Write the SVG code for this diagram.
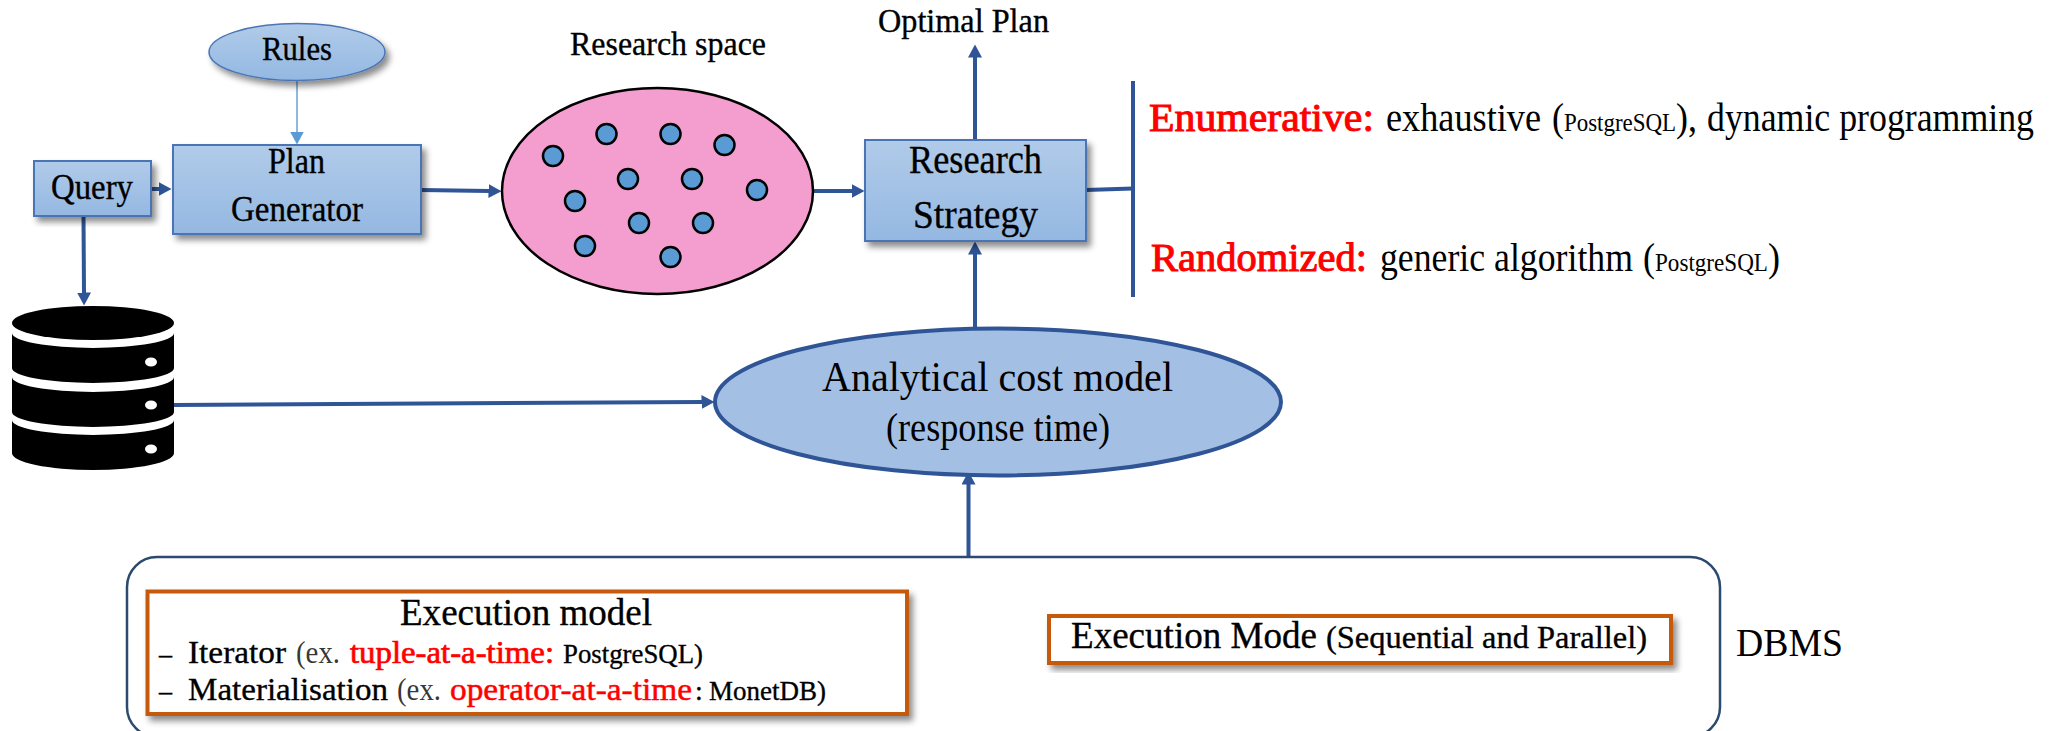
<svg xmlns="http://www.w3.org/2000/svg" width="2060" height="731" viewBox="0 0 2060 731">
<style>
text{font-family:"Liberation Serif","Times New Roman",serif;fill:#000;stroke:#000;stroke-width:.35}
text.r{fill:#f00;stroke:#f00}
text.t{stroke-width:0}
.box{fill:url(#blue);stroke:#4A75B5;stroke-width:2;filter:url(#sh)}
.ex{fill:#fff;stroke:#C55A11;stroke-width:4;filter:url(#sh)}
.c{fill:none;stroke:#2F5597;stroke-width:4}
.dot{fill:#5B9BD5;stroke:#000;stroke-width:2.5}
.db{fill:#000}
.dbh{fill:#fff}
</style>
<defs>
<linearGradient id="blue" x1="0" y1="0" x2="0" y2="1"><stop offset="0" stop-color="#B1CBE9"/><stop offset="1" stop-color="#94B8E2"/></linearGradient>
<filter id="sh" x="-10%" y="-20%" width="120%" height="140%"><feDropShadow dx="4" dy="5" stdDeviation="3" flood-color="#000" flood-opacity="0.45"/></filter>
<marker id="a" markerUnits="userSpaceOnUse" markerWidth="14" markerHeight="14" refX="0.5" refY="7" orient="auto"><path d="M0 0L13 7L0 14Z" fill="#2F5597"/></marker>
<marker id="al" markerUnits="userSpaceOnUse" markerWidth="14" markerHeight="14" refX="0.5" refY="7" orient="auto"><path d="M0 0L13 7L0 14Z" fill="#5B9BD5"/></marker>
</defs>
<rect width="2060" height="731" fill="#fff"/>
<g id="connectors">
<line x1="297" y1="81" x2="297" y2="132" stroke="#8DB8E2" stroke-width="2" marker-end="url(#al)"/>
<line x1="151" y1="189" x2="159" y2="189" class="c" marker-end="url(#a)"/>
<line x1="83.5" y1="216" x2="84" y2="293" class="c" marker-end="url(#a)"/>
<line x1="421" y1="190" x2="489" y2="191" class="c" marker-end="url(#a)"/>
<line x1="813" y1="191" x2="852" y2="191" class="c" marker-end="url(#a)"/>
<line x1="975" y1="140" x2="975" y2="57" class="c" marker-end="url(#a)"/>
<line x1="975" y1="328" x2="975" y2="254" class="c" marker-end="url(#a)"/>
<line x1="174" y1="405" x2="702" y2="402" class="c" marker-end="url(#a)"/>
<line x1="968.5" y1="557" x2="968.5" y2="484" class="c" marker-end="url(#a)"/>
<line x1="1086" y1="190" x2="1133" y2="188.5" class="c"/>
<line x1="1133" y1="81" x2="1133" y2="297" class="c"/>
</g>
<g id="rules"><ellipse cx="297" cy="52" rx="88" ry="28.5" class="box" style="stroke-width:1.5"/><text x="262" y="60" font-size="34" textLength="70" lengthAdjust="spacingAndGlyphs">Rules</text></g>
<g id="query"><rect x="34" y="161" width="117" height="55" class="box"/><text x="51" y="199" font-size="35" textLength="82" lengthAdjust="spacingAndGlyphs">Query</text></g>
<g id="plan-generator"><rect x="173" y="145" width="248" height="89" class="box"/>
<text x="268" y="173" font-size="35" textLength="57" lengthAdjust="spacingAndGlyphs">Plan</text>
<text x="231" y="221" font-size="35" textLength="132" lengthAdjust="spacingAndGlyphs">Generator</text></g>
<g id="database">
<ellipse cx="93" cy="323" rx="81" ry="17" class="db"/>
<path class="db" d="M12 333A81 15 0 0 0 174 333V368A81 15 0 0 1 12 368Z"/>
<path class="db" d="M12 377A81 15 0 0 0 174 377V412A81 15 0 0 1 12 412Z"/>
<path class="db" d="M12 420A81 15 0 0 0 174 420V453A81 17 0 0 1 12 453Z"/>
<ellipse cx="151" cy="362" rx="6" ry="4.5" class="dbh"/><ellipse cx="151" cy="405" rx="6" ry="4.5" class="dbh"/><ellipse cx="151" cy="449" rx="6" ry="4.5" class="dbh"/>
</g>
<g id="research-space">
<text x="570" y="55" font-size="34" textLength="196" lengthAdjust="spacingAndGlyphs">Research space</text>
<ellipse cx="657.5" cy="191" rx="155.5" ry="103" fill="#F49ED0" stroke="#000" stroke-width="2.5"/>
<circle cx="553" cy="156" r="10" class="dot"/><circle cx="606.5" cy="134" r="10" class="dot"/><circle cx="670.5" cy="134" r="10" class="dot"/><circle cx="724.5" cy="145" r="10" class="dot"/><circle cx="628" cy="179" r="10" class="dot"/><circle cx="692" cy="179" r="10" class="dot"/><circle cx="757" cy="190" r="10" class="dot"/><circle cx="575" cy="201" r="10" class="dot"/><circle cx="639" cy="223" r="10" class="dot"/><circle cx="703" cy="223" r="10" class="dot"/><circle cx="585" cy="246" r="10" class="dot"/><circle cx="670.5" cy="257" r="10" class="dot"/>
</g>
<g id="optimal-plan"><text x="878" y="32" font-size="33" textLength="171" lengthAdjust="spacingAndGlyphs">Optimal Plan</text></g>
<g id="research-strategy"><rect x="865" y="140" width="221" height="101" class="box"/>
<text x="909" y="173" font-size="40" textLength="133" lengthAdjust="spacingAndGlyphs">Research</text>
<text x="913" y="228" font-size="40" textLength="125" lengthAdjust="spacingAndGlyphs">Strategy</text></g>
<g id="strategies">
<text x="1149" y="131" font-size="39" class="r" style="stroke-width:1" textLength="225" lengthAdjust="spacingAndGlyphs">Enumerative:</text>
<text x="1386" y="131" font-size="39" class="t" textLength="155" lengthAdjust="spacingAndGlyphs">exhaustive</text>
<text x="1552" y="131" font-size="39" class="t" textLength="145" lengthAdjust="spacingAndGlyphs">(<tspan font-size="25">PostgreSQL</tspan>),</text>
<text x="1707" y="131" font-size="39" class="t" textLength="327" lengthAdjust="spacingAndGlyphs">dynamic programming</text>
<text x="1151" y="271" font-size="39" class="r" style="stroke-width:1" textLength="216" lengthAdjust="spacingAndGlyphs">Randomized:</text>
<text x="1380" y="271" font-size="39" class="t" textLength="253" lengthAdjust="spacingAndGlyphs">generic algorithm</text>
<text x="1643" y="271" font-size="39" class="t" textLength="137" lengthAdjust="spacingAndGlyphs">(<tspan font-size="25">PostgreSQL</tspan>)</text>
</g>
<g id="cost-model"><ellipse cx="998" cy="402" rx="283" ry="73.5" fill="#A4BFE4" stroke="#2F5597" stroke-width="4"/>
<text x="822" y="391" font-size="42" class="t" textLength="351" lengthAdjust="spacingAndGlyphs">Analytical cost model</text>
<text x="886" y="441" font-size="39" class="t" textLength="224" lengthAdjust="spacingAndGlyphs">(response time)</text></g>
<g id="dbms"><rect x="127" y="557" width="1593" height="180" rx="30" ry="30" fill="none" stroke="#2C4A6E" stroke-width="2.5"/>
<text x="1736" y="656" font-size="40" class="t" textLength="107" lengthAdjust="spacingAndGlyphs">DBMS</text></g>
<g id="execution-model"><rect x="147.5" y="591.5" width="759.5" height="122.5" class="ex"/>
<text x="400" y="625" font-size="37" textLength="252" lengthAdjust="spacingAndGlyphs">Execution model</text>
<text x="159" y="663" font-size="26">–</text>
<text x="188" y="663" font-size="32" textLength="98" lengthAdjust="spacingAndGlyphs">Iterator</text>
<text x="296" y="663" font-size="32" class="t" fill-opacity="0.8" textLength="44" lengthAdjust="spacingAndGlyphs">(ex.</text>
<text x="350" y="663" font-size="32" class="r" style="stroke-width:.7" textLength="204" lengthAdjust="spacingAndGlyphs">tuple-at-a-time:</text>
<text x="563" y="663" font-size="28" textLength="140" lengthAdjust="spacingAndGlyphs">PostgreSQL)</text>
<text x="159" y="700" font-size="26">–</text>
<text x="188" y="700" font-size="32" textLength="200" lengthAdjust="spacingAndGlyphs">Materialisation</text>
<text x="397" y="700" font-size="32" class="t" fill-opacity="0.8" textLength="44" lengthAdjust="spacingAndGlyphs">(ex.</text>
<text x="450" y="700" font-size="32" class="r" style="stroke-width:.5" textLength="242" lengthAdjust="spacingAndGlyphs">operator-at-a-time</text>
<text x="695" y="700" font-size="28">:</text>
<text x="709" y="700" font-size="28" textLength="117" lengthAdjust="spacingAndGlyphs">MonetDB)</text></g>
<g id="execution-mode"><rect x="1049" y="616" width="622" height="47" class="ex"/>
<text x="1071" y="648" font-size="38" textLength="246" lengthAdjust="spacingAndGlyphs">Execution Mode</text>
<text x="1326" y="648" font-size="32" textLength="321" lengthAdjust="spacingAndGlyphs">(Sequential and Parallel)</text></g>
</svg>
